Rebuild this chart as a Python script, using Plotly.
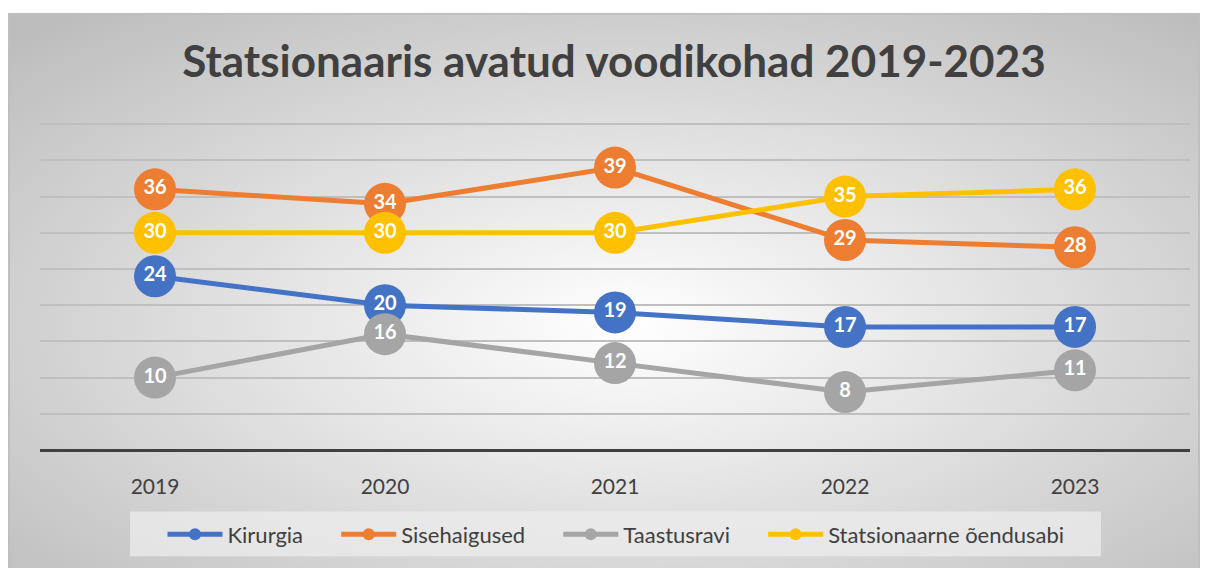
import base64
import plotly.graph_objects as go

years = ["2019", "2020", "2021", "2022", "2023"]
kirurgia = [24, 20, 19, 17, 17]
sisehaigused = [36, 34, 39, 29, 28]
taastusravi = [10, 16, 12, 8, 11]
oendusabi = [30, 30, 30, 35, 36]

PAD = "\u00a0" * 5
series = [
    ("Kirurgia" + PAD, kirurgia, "#4472C4"),
    ("Sisehaigused" + PAD, sisehaigused, "#ED7D31"),
    ("Taastusravi" + PAD, taastusravi, "#A5A5A5"),
    ("Statsionaarne õendusabi", oendusabi, "#FFC000"),
]

FONT = "Lato"

fig = go.Figure()
for name, vals, col in series:
    fig.add_trace(go.Scatter(
        x=years, y=vals, name=name,
        mode="lines+markers+text",
        line=dict(color=col, width=5),
        marker=dict(color=col, size=42),
        text=[str(v) for v in vals],
        textposition="middle center",
        textfont=dict(color="white", size=20, family=FONT, weight="bold"),
        cliponaxis=False,
    ))

# radial grey background in the chart frame (svg via data uri)
svg = (
    '<svg xmlns="http://www.w3.org/2000/svg" width="1192" height="570" '
    'preserveAspectRatio="none" viewBox="0 0 1192 570">'
    '<defs><radialGradient id="g" cx="0.52" cy="0.55" r="0.72">'
    '<stop offset="0" stop-color="#ffffff"/>'
    '<stop offset="1" stop-color="#bdbdbd"/></radialGradient></defs>'
    '<rect x="1" y="1" width="1190" height="568" fill="url(#g)" '
    'stroke="#bfbfbf" stroke-width="2"/></svg>'
)
src = "data:image/svg+xml;base64," + base64.b64encode(svg.encode()).decode()

W, H = 1194, 560
L, R, T, B = 32, 12, 114, 116
pw, ph = W - L - R, H - T - B


def px(x):
    return (x - L) / pw


def py(y):
    return (T + ph - y) / ph


fig.add_layout_image(
    source=src, xref="paper", yref="paper",
    x=px(0), y=py(4), sizex=1192 / pw, sizey=570 / ph,
    xanchor="left", yanchor="top", sizing="stretch", layer="below",
)

# legend box
fig.add_shape(
    type="rect", xref="paper", yref="paper",
    x0=px(122), x1=px(1093), y0=py(551), y1=py(506),
    fillcolor="rgba(236,236,236,0.75)", line_width=0, layer="below",
)

fig.update_layout(
    width=W, height=H,
    margin=dict(l=L, r=R, t=T, b=B),
    paper_bgcolor="white", plot_bgcolor="rgba(0,0,0,0)",
    title=dict(
        text="Statsionaaris avatud voodikohad 2019-2023",
        x=(614 - 8) / W, xanchor="center", y=1 - 54 / H, yanchor="middle",
        font=dict(family=FONT, size=44, color="#404040", weight="bold"),
    ),
    font=dict(family=FONT, color="#404040"),
    showlegend=True,
    legend=dict(
        orientation="h", x=px(608), xanchor="center",
        y=py(529), yanchor="middle",
        bgcolor="rgba(0,0,0,0)",
        font=dict(family=FONT, size=22, color="#404040"),
        itemsizing="constant", itemwidth=55,
    ),
    xaxis=dict(
        showgrid=False, showline=False, zeroline=False,
        ticks="outside", ticklen=18, tickcolor="rgba(0,0,0,0)",
        tickfont=dict(family=FONT, size=21, color="#404040"),
        range=[-0.5, 4.5],
    ),
    yaxis=dict(
        range=[0, 45.3], dtick=5, showticklabels=False,
        showgrid=True, gridcolor="#bfbfbf", gridwidth=1.5,
        zeroline=True, zerolinecolor="#404040", zerolinewidth=3,
        showline=False,
    ),
)

fig.write_html("out.html")
